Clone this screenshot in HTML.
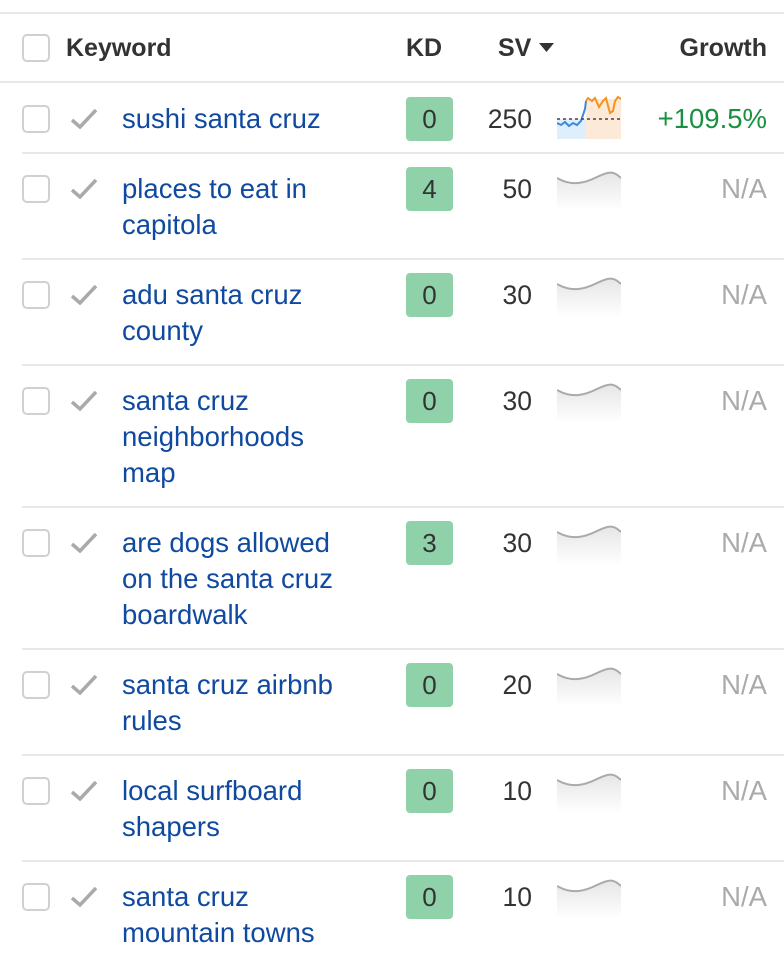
<!DOCTYPE html>
<html><head><meta charset="utf-8"><style>
*{margin:0;padding:0;box-sizing:border-box}
body{width:784px;height:962px;background:#fff;position:relative;overflow:hidden;font-family:"Liberation Sans",Arial,sans-serif;}
.a{position:absolute}
.hl{position:absolute;height:2px;background:#e8e8e8}
.cb{position:absolute;left:22px;width:28px;height:28px;border:2px solid #d0d0d0;border-radius:5px;background:#fff}
.ck{position:absolute;left:69px;width:30px;height:24px}
.kw{position:absolute;left:122px;font-size:27.5px;line-height:36px;color:#0f4aa0;width:270px}
.kd{position:absolute;left:406px;width:47px;height:44px;background:#8fd1a9;border-radius:4px;font-size:26px;line-height:44px;text-align:center;color:#333}
.sv{position:absolute;right:252px;font-size:26.5px;line-height:36px;color:#333;text-align:right}
.sp{position:absolute;left:557px;width:64px;height:44px}
.na{position:absolute;right:17px;font-size:27.5px;line-height:36px;color:#aaa}
.h{position:absolute;top:30px;font-size:25px;line-height:36px;font-weight:bold;color:#333}
</style></head><body>
<div class="hl" style="left:0;top:12px;width:784px"></div>
<div class="cb" style="top:34px"></div>
<div class="h" style="left:66px">Keyword</div>
<div class="h" style="left:406px">KD</div>
<div class="h" style="left:498px">SV</div>
<svg class="a" style="left:539px;top:43px" width="16" height="10"><path d="M0 0H15L7.5 9Z" fill="#333"/></svg>
<div class="h" style="right:17px">Growth</div>
<div class="hl" style="left:0;top:81px;width:784px"></div>

<svg width="0" height="0" style="position:absolute"><defs>
<linearGradient id="g" x1="0" y1="0" x2="0" y2="1"><stop offset="0" stop-color="#e6e6e6"/><stop offset="1" stop-color="#fff"/></linearGradient>
</defs></svg>

<!-- row 1 -->
<div class="cb" style="top:105px"></div>
<svg class="ck" style="top:107px" viewBox="0 0 30 24"><path d="M3 13 L11 20 L27 3" fill="none" stroke="#aaa" stroke-width="3.5"/></svg>
<div class="kw" style="top:101px">sushi santa cruz</div>
<div class="kd" style="top:97px">0</div>
<div class="sv" style="top:101px">250</div>
<svg class="sp" style="top:95px" viewBox="0 0 64 44">
<rect x="0" y="24" width="29" height="20" fill="#dfeefb"/>
<rect x="29" y="4" width="35" height="40" fill="#fde9d8"/>
<path d="M0 28 L4 30 L8 27 L12 31 L16 28 L20 30 L24 26 L26 20 L28 14 L29 6" fill="none" stroke="#3c8ad8" stroke-width="2"/>
<path d="M29 6 L31 3 L35 6 L38 3 L42 12 L46 6 L49 3 L53 18 L56 16 L58 6 L61 2 L64 4" fill="none" stroke="#f5921e" stroke-width="2"/>
<path d="M0 24 H64" stroke="#444" stroke-width="1.5" stroke-dasharray="3,3"/>
</svg>
<div class="a" style="right:17px;top:101px;font-size:27.5px;line-height:36px;color:#1a9140">+109.5%</div>
<div class="hl" style="left:22px;top:152px;width:762px"></div>

<!-- row 2 -->
<div class="cb" style="top:175px"></div>
<svg class="ck" style="top:177px" viewBox="0 0 30 24"><path d="M3 13 L11 20 L27 3" fill="none" stroke="#aaa" stroke-width="3.5"/></svg>
<div class="kw" style="top:171px">places to eat in<br>capitola</div>
<div class="kd" style="top:167px">4</div>
<div class="sv" style="top:171px">50</div>
<svg class="sp" style="top:167px" viewBox="0 0 64 44"><path d="M0 11 C14 19 26 17 40 10 S57 5 64 11 V44 H0Z" fill="url(#g)"/><path d="M0 11 C14 19 26 17 40 10 S57 5 64 11" fill="none" stroke="#aaa" stroke-width="2"/></svg>
<div class="na" style="top:171px">N/A</div>
<div class="hl" style="left:22px;top:258px;width:762px"></div>

<!-- row 3 -->
<div class="cb" style="top:281px"></div>
<svg class="ck" style="top:283px" viewBox="0 0 30 24"><path d="M3 13 L11 20 L27 3" fill="none" stroke="#aaa" stroke-width="3.5"/></svg>
<div class="kw" style="top:277px">adu santa cruz<br>county</div>
<div class="kd" style="top:273px">0</div>
<div class="sv" style="top:277px">30</div>
<svg class="sp" style="top:273px" viewBox="0 0 64 44"><path d="M0 11 C14 19 26 17 40 10 S57 5 64 11 V44 H0Z" fill="url(#g)"/><path d="M0 11 C14 19 26 17 40 10 S57 5 64 11" fill="none" stroke="#aaa" stroke-width="2"/></svg>
<div class="na" style="top:277px">N/A</div>
<div class="hl" style="left:22px;top:364px;width:762px"></div>

<!-- row 4 -->
<div class="cb" style="top:387px"></div>
<svg class="ck" style="top:389px" viewBox="0 0 30 24"><path d="M3 13 L11 20 L27 3" fill="none" stroke="#aaa" stroke-width="3.5"/></svg>
<div class="kw" style="top:383px">santa cruz<br>neighborhoods<br>map</div>
<div class="kd" style="top:379px">0</div>
<div class="sv" style="top:383px">30</div>
<svg class="sp" style="top:379px" viewBox="0 0 64 44"><path d="M0 11 C14 19 26 17 40 10 S57 5 64 11 V44 H0Z" fill="url(#g)"/><path d="M0 11 C14 19 26 17 40 10 S57 5 64 11" fill="none" stroke="#aaa" stroke-width="2"/></svg>
<div class="na" style="top:383px">N/A</div>
<div class="hl" style="left:22px;top:506px;width:762px"></div>

<!-- row 5 -->
<div class="cb" style="top:529px"></div>
<svg class="ck" style="top:531px" viewBox="0 0 30 24"><path d="M3 13 L11 20 L27 3" fill="none" stroke="#aaa" stroke-width="3.5"/></svg>
<div class="kw" style="top:525px">are dogs allowed<br>on the santa cruz<br>boardwalk</div>
<div class="kd" style="top:521px">3</div>
<div class="sv" style="top:525px">30</div>
<svg class="sp" style="top:521px" viewBox="0 0 64 44"><path d="M0 11 C14 19 26 17 40 10 S57 5 64 11 V44 H0Z" fill="url(#g)"/><path d="M0 11 C14 19 26 17 40 10 S57 5 64 11" fill="none" stroke="#aaa" stroke-width="2"/></svg>
<div class="na" style="top:525px">N/A</div>
<div class="hl" style="left:22px;top:648px;width:762px"></div>

<!-- row 6 -->
<div class="cb" style="top:671px"></div>
<svg class="ck" style="top:673px" viewBox="0 0 30 24"><path d="M3 13 L11 20 L27 3" fill="none" stroke="#aaa" stroke-width="3.5"/></svg>
<div class="kw" style="top:667px">santa cruz airbnb<br>rules</div>
<div class="kd" style="top:663px">0</div>
<div class="sv" style="top:667px">20</div>
<svg class="sp" style="top:663px" viewBox="0 0 64 44"><path d="M0 11 C14 19 26 17 40 10 S57 5 64 11 V44 H0Z" fill="url(#g)"/><path d="M0 11 C14 19 26 17 40 10 S57 5 64 11" fill="none" stroke="#aaa" stroke-width="2"/></svg>
<div class="na" style="top:667px">N/A</div>
<div class="hl" style="left:22px;top:754px;width:762px"></div>

<!-- row 7 -->
<div class="cb" style="top:777px"></div>
<svg class="ck" style="top:779px" viewBox="0 0 30 24"><path d="M3 13 L11 20 L27 3" fill="none" stroke="#aaa" stroke-width="3.5"/></svg>
<div class="kw" style="top:773px">local surfboard<br>shapers</div>
<div class="kd" style="top:769px">0</div>
<div class="sv" style="top:773px">10</div>
<svg class="sp" style="top:769px" viewBox="0 0 64 44"><path d="M0 11 C14 19 26 17 40 10 S57 5 64 11 V44 H0Z" fill="url(#g)"/><path d="M0 11 C14 19 26 17 40 10 S57 5 64 11" fill="none" stroke="#aaa" stroke-width="2"/></svg>
<div class="na" style="top:773px">N/A</div>
<div class="hl" style="left:22px;top:860px;width:762px"></div>

<!-- row 8 -->
<div class="cb" style="top:883px"></div>
<svg class="ck" style="top:885px" viewBox="0 0 30 24"><path d="M3 13 L11 20 L27 3" fill="none" stroke="#aaa" stroke-width="3.5"/></svg>
<div class="kw" style="top:879px">santa cruz<br>mountain towns</div>
<div class="kd" style="top:875px">0</div>
<div class="sv" style="top:879px">10</div>
<svg class="sp" style="top:875px" viewBox="0 0 64 44"><path d="M0 11 C14 19 26 17 40 10 S57 5 64 11 V44 H0Z" fill="url(#g)"/><path d="M0 11 C14 19 26 17 40 10 S57 5 64 11" fill="none" stroke="#aaa" stroke-width="2"/></svg>
<div class="na" style="top:879px">N/A</div>
</body></html>
